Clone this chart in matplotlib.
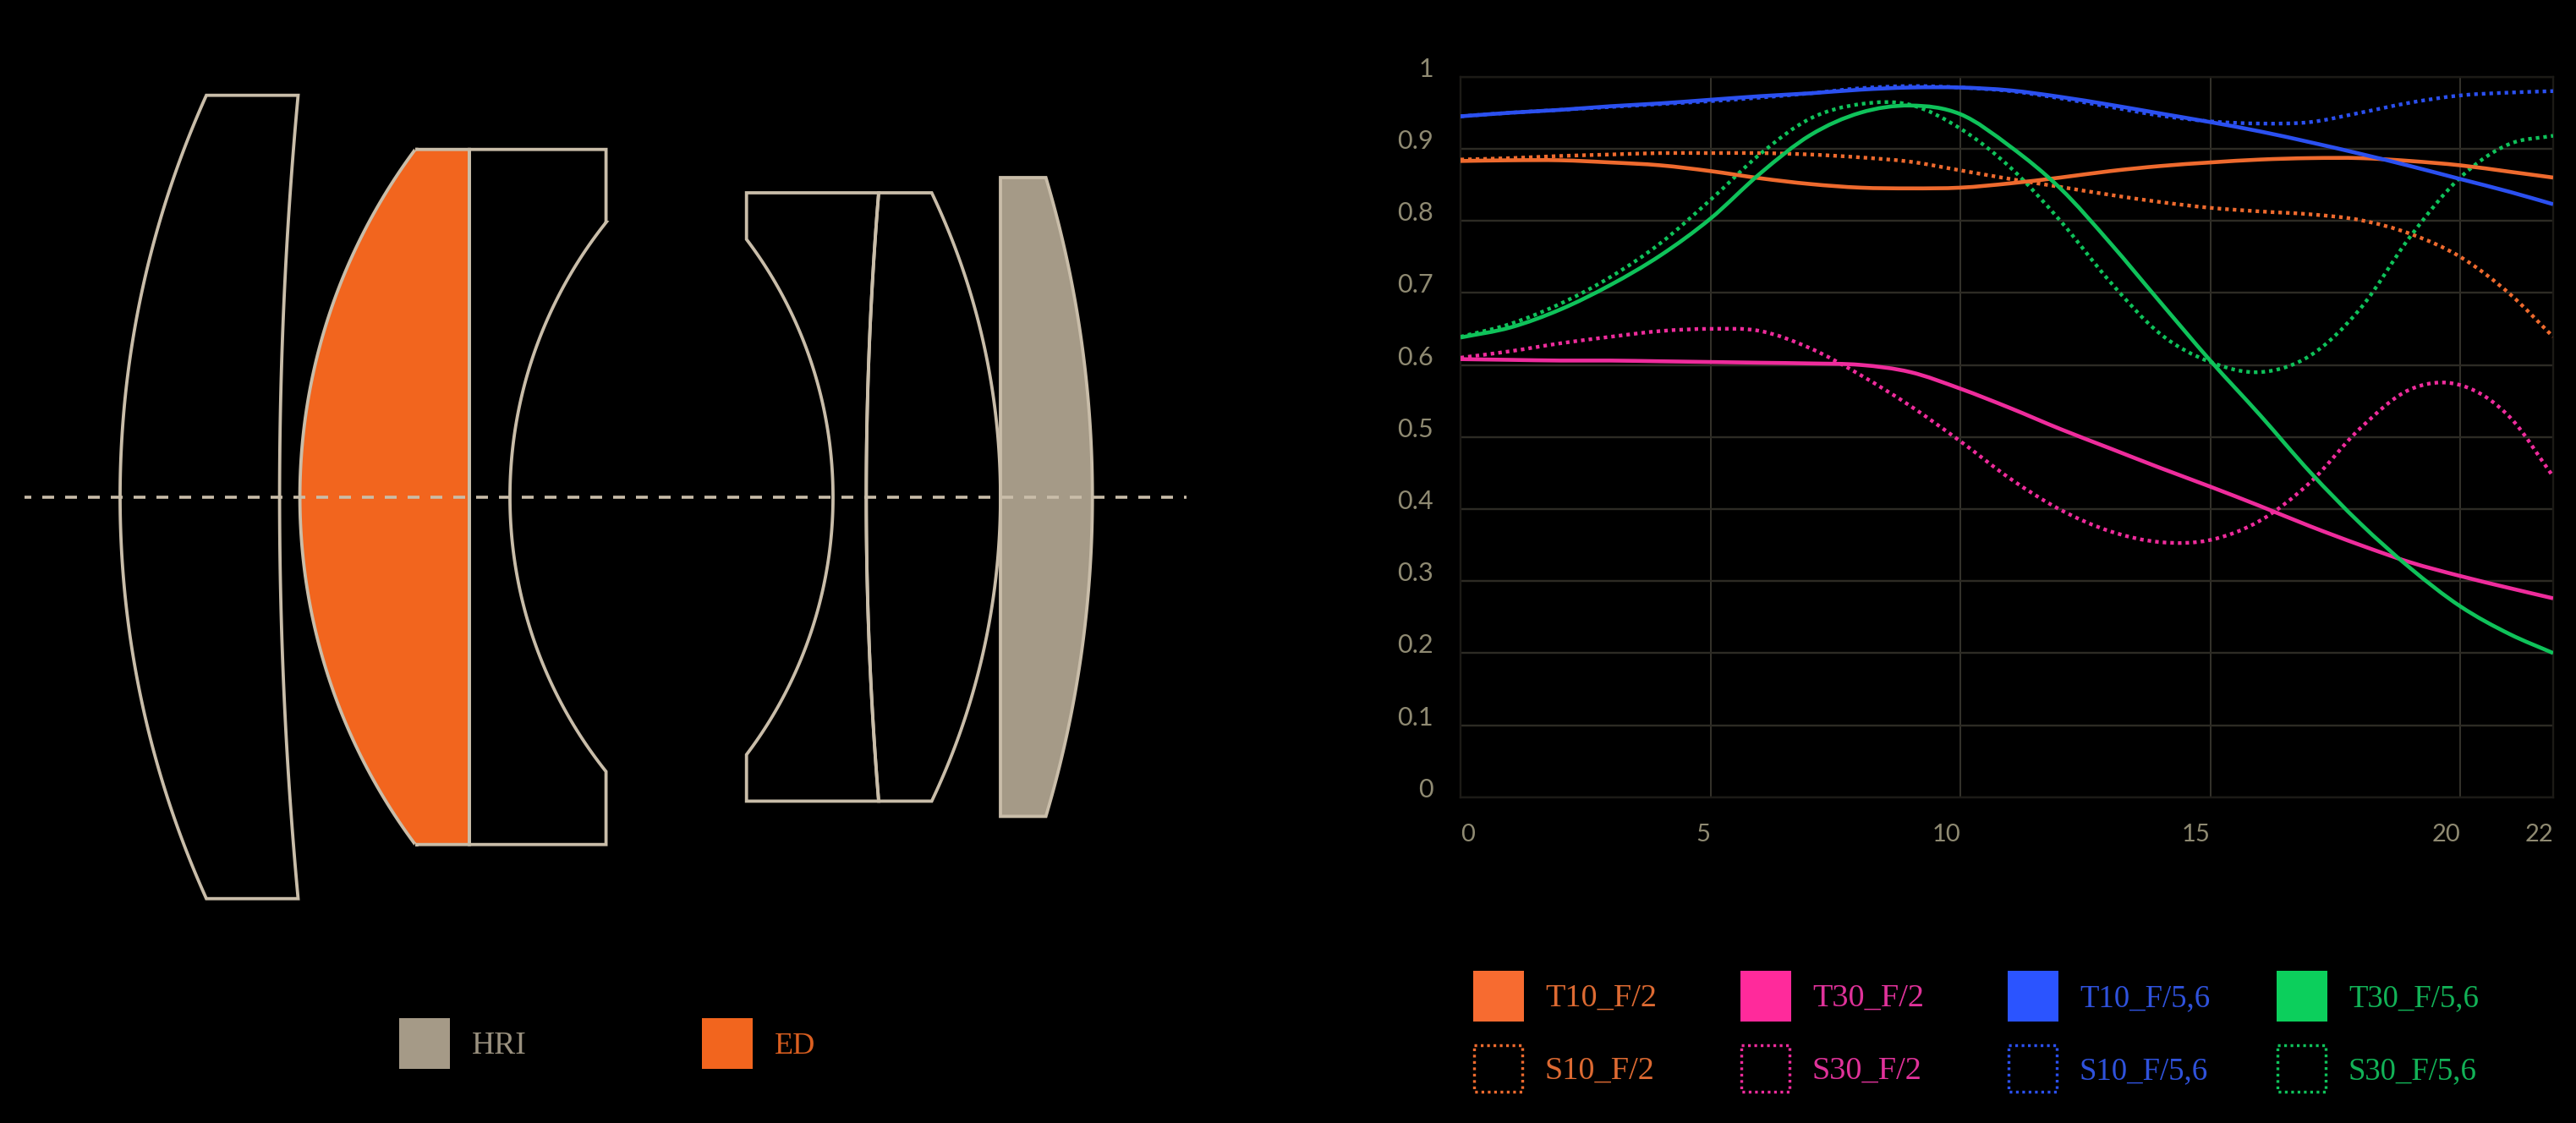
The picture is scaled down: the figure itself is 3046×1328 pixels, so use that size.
import numpy as np
import matplotlib
matplotlib.use("Agg")
import matplotlib.pyplot as plt
from matplotlib.path import Path
from matplotlib.patches import PathPatch, Rectangle, Polygon

# ---------- data ----------
X_T = [0,1,2,3,4,5,6,7,8,9,10,11,12,13,14,15,16,17,18,19,20,21,21.86]
T10_F2 = [.883,.884,.884,.881,.877,.869,.859,.851,.846,.845,.846,.852,.860,.869,.876,.881,.885,.887,.887,.883,.877,.868,.860]
S10_F2 = [.885,.887,.890,.892,.894,.894,.894,.892,.888,.882,.870,.858,.847,.836,.826,.818,.813,.809,.801,.782,.750,.698,.639]
T30_F2 = [.608,.607,.606,.606,.605,.604,.603,.602,.600,.590,.567,.540,.511,.484,.457,.431,.404,.376,.350,.326,.307,.290,.276]
S30_F2 = [.610,.619,.630,.639,.647,.650,.647,.623,.586,.543,.494,.442,.399,.369,.354,.357,.384,.437,.512,.566,.572,.527,.445]
T10_F56 = [.945,.950,.954,.959,.963,.968,.973,.977,.982,.985,.985,.981,.972,.961,.949,.937,.924,.909,.893,.876,.858,.840,.823]
S10_F56 = [.945,.950,.954,.958,.962,.966,.971,.977,.984,.987,.985,.980,.970,.958,.946,.938,.935,.937,.950,.964,.974,.978,.980]
T30_F56 = [.638,.652,.677,.711,.752,.803,.866,.919,.950,.960,.948,.903,.845,.769,.687,.606,.530,.451,.380,.318,.265,.226,.200]
S30_F56 = [.639,.657,.685,.722,.769,.829,.893,.942,.962,.961,.928,.874,.800,.715,.643,.604,.590,.613,.678,.778,.860,.907,.918]

Y_TICKS = [0,.1,.2,.3,.4,.5,.6,.7,.8,.9,1]
Y_LABELS = ["0","0.1","0.2","0.3","0.4","0.5","0.6","0.7","0.8","0.9","1"]
X_TICKS = [0,5,10,15,20,21.86]
X_LABELS = ["0","5","10","15","20","22"]

SERIES = ["T10_F/2","T30_F/2","T10_F/5,6","T30_F/5,6","S10_F/2","S30_F/2","S10_F/5,6","S30_F/5,6"]
MATERIALS = ["HRI","ED"]

# ---------- styles ----------
plt.rcParams['lines.scale_dashes'] = False
BG = "#000000"
OUT = "#C9BDA9"
GRID_H = "#2D2B24"
GRID_V = "#33312A"
EDGE = "#1C1A16"
TICK = "#8F8A72"
C_OR, C_PK, C_BL, C_GR = "#EE6A2E", "#EE2C9C", "#2B50F0", "#0FC25A"
SW_OR, SW_PK, SW_BL, SW_GR = "#F76B30", "#FF2A9B", "#2B54FF", "#0CCF5C"
TXT_OR, TXT_PK, TXT_BL, TXT_GR = "#DD6A32", "#E0329A", "#2F52DC", "#12B257"
HRI_C, ED_C = "#A59A87", "#F2651E"
px = 0.72  # points per pixel at dpi 100

W, H = 3046, 1328
fig = plt.figure(figsize=(W/100, H/100), dpi=100, facecolor=BG)
over = fig.add_axes([0, 0, 1, 1], facecolor="none", zorder=1)
over.set_xlim(0, W); over.set_ylim(H, 0); over.axis("off")

# ---------- lens diagram ----------
CY = 587.7
def arc(x_edge, y_a, x_apex, y_b, n=120):
    h = abs(y_b - y_a) / 2
    s = x_apex - x_edge
    R = (h*h + s*s) / (2*abs(s))
    sign = np.sign(s)
    xc = x_apex - sign*R
    yc = (y_a + y_b) / 2
    ys = np.linspace(y_a, y_b, n)
    xs = xc + sign*np.sqrt(R*R - (ys-yc)**2)
    return list(zip(xs, ys))

def lens(points, face="none", z=2):
    over.add_patch(Polygon(points, closed=True, facecolor=face, edgecolor=OUT,
                           linewidth=3.8*px, joinstyle="miter", zorder=z))

lens([(244,112.7),(352.5,112.7)] + arc(352.5,112.7,330.6,1062.7) +
     [(244,1062.7)] + arc(244,1062.7,142,112.7))
lens([(491,176.7),(555,176.7),(555,998.7),(491,998.7)] + arc(491,998.7,354.6,176.7), face=ED_C)
lens([(555,176.7),(716.6,176.7),(716.6,263)] + arc(716.6,263,603,912.4) +
     [(716.6,998.7),(555,998.7)])
lens([(882.7,228),(1039,228)] + arc(1039,228,1024.3,947.4) +
     [(882.7,947.4)] + arc(882.7,892.4,985,283))
lens([(1039,228),(1101.7,228)] + arc(1101.7,228,1183,947.4) +
     [(1039,947.4)] + arc(1039,947.4,1024.3,228))
lens([(1183,210),(1236.7,210)] + arc(1236.7,210,1291.7,965.4) +
     [(1183,965.4)], face=HRI_C, z=3)

over.plot([29,1403],[CY,CY], color=OUT, lw=3.6*px, solid_capstyle="butt",
          dash_capstyle="butt", linestyle=(6*px,(14*px,13*px)), zorder=4)

# material legend
over.add_patch(Rectangle((472,1204),60,60,facecolor=HRI_C,edgecolor="none"))
over.add_patch(Rectangle((830,1204),60,60,facecolor=ED_C,edgecolor="none"))
SERIF = "Liberation Serif"
over.text(558,1246,MATERIALS[0],color="#9A917F",family=SERIF,fontsize=27,va="baseline",ha="left")
over.text(916,1246,MATERIALS[1],color="#DB5F20",family=SERIF,fontsize=26,va="baseline",ha="left")

# ---------- MTF chart ----------
ax = fig.add_axes([1727/W, 1-942.7/H, (3019-1727)/W, (942.7-90.7)/H], facecolor=BG, zorder=2)
ax.set_xlim(0, 21.86); ax.set_ylim(0, 1)
ax.set_xticks(X_TICKS); ax.set_xticklabels(X_LABELS)
ax.set_yticks(Y_TICKS); ax.set_yticklabels(Y_LABELS)
ax.tick_params(axis="both", length=0, colors=TICK, labelsize=22)
ax.tick_params(axis="y", pad=32*px)
ax.tick_params(axis="x", pad=31*px, labelsize=21)
for lab in ax.get_yticklabels():
    lab.set_family("Lato"); lab.set_va("baseline"); lab.set_color(TICK)
for i, lab in enumerate(ax.get_xticklabels()):
    lab.set_family("Lato"); lab.set_ha("left" if i == 0 else "right"); lab.set_color(TICK)
ax.grid(axis="y", color=GRID_H, lw=2.4*px, zorder=0)
ax.grid(axis="x", color=GRID_V, lw=2*px, zorder=0)
ax.set_axisbelow(True)
for s in ax.spines.values():
    s.set_color(EDGE); s.set_linewidth(2.4*px); s.set_zorder(1)

def smooth_path(x, y):
    x = np.asarray(x, float); y = np.asarray(y, float)
    h = np.diff(x); d = np.diff(y)/h
    m = np.zeros_like(y)
    m[1:-1] = (d[:-1]*h[1:] + d[1:]*h[:-1])/(h[:-1]+h[1:])
    m[0], m[-1] = d[0], d[-1]
    verts = [(x[0], y[0])]; codes = [Path.MOVETO]
    for i in range(len(h)):
        verts += [(x[i]+h[i]/3, y[i]+m[i]*h[i]/3),
                  (x[i+1]-h[i]/3, y[i+1]-m[i+1]*h[i]/3),
                  (x[i+1], y[i+1])]
        codes += [Path.CURVE4]*3
    return Path(verts, codes)

DOTTED = (0, (4.2*px, 4.8*px))
def curve(y, color, dotted=False, z=3):
    ax.add_patch(PathPatch(smooth_path(X_T, y), fill=False, edgecolor=color,
                           linewidth=(4.4 if dotted else 4.6)*px, capstyle="butt",
                           linestyle=DOTTED if dotted else "-", zorder=z))

curve(S10_F2, C_OR, True); curve(S30_F2, C_PK, True)
curve(S10_F56, C_BL, True); curve(S30_F56, C_GR, True)
curve(T10_F2, C_OR); curve(T30_F2, C_PK); curve(T30_F56, C_GR); curve(T10_F56, C_BL)

# ---------- series legend ----------
cols = [1742, 2058, 2374, 2692]
sw = [SW_OR, SW_PK, SW_BL, SW_GR]
dc = [C_OR, C_PK, C_BL, C_GR]
tc = [TXT_OR, TXT_PK, TXT_BL, TXT_GR]
for i, x0 in enumerate(cols):
    over.add_patch(Rectangle((x0,1148),60,60,facecolor=sw[i],edgecolor="none"))
    over.add_patch(Rectangle((x0+1.5,1236),57,55,facecolor="none",edgecolor=dc[i],
                             linewidth=3.4*px,linestyle=(0,(3.2*px,4.3*px))))
    fs = 27.5 if i < 2 else 26.5
    over.text(x0+85,1190,SERIES[i],color=tc[i],family=SERIF,fontsize=fs,va="baseline",ha="left")
    over.text(x0+85,1276,SERIES[i+4],color=tc[i],family=SERIF,fontsize=fs,va="baseline",ha="left")

fig.savefig("out.png", dpi=100, facecolor=BG)
